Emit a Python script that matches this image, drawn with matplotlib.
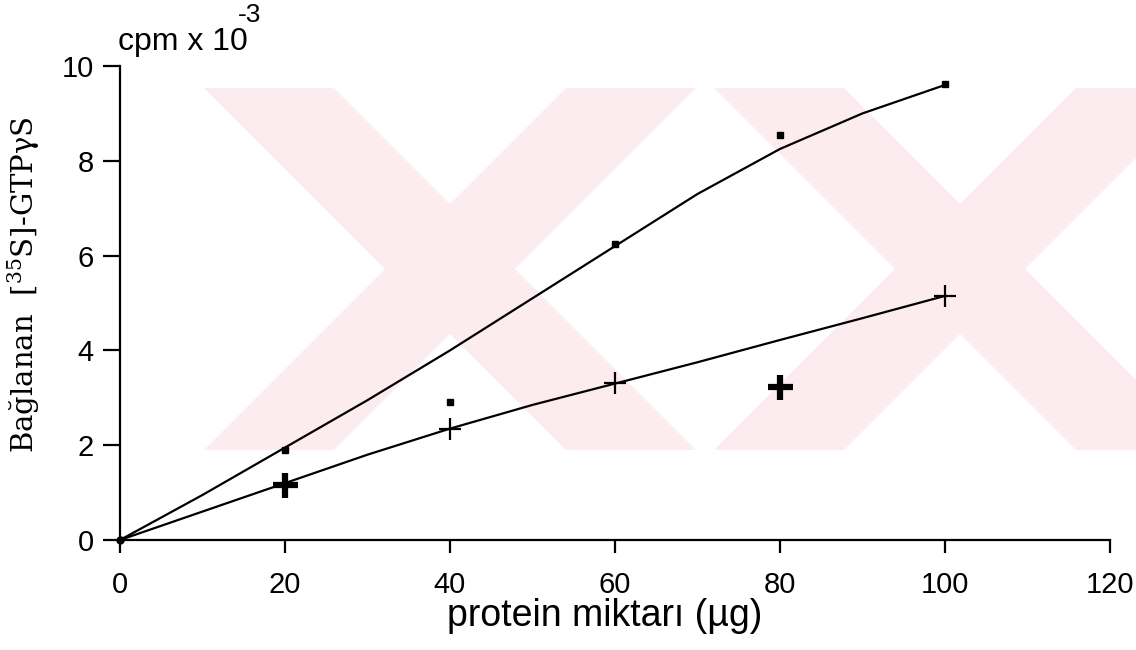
import matplotlib
matplotlib.use("Agg")
import matplotlib.pyplot as plt
from matplotlib.patches import Polygon, Rectangle

# measured points (protein ug -> bound cpm x 1e-3)
protein_ug = [0, 20, 40, 60, 80, 100]
upper_pts = [0, 1.9, 2.91, 6.24, 8.54, 9.62]
lower_pts = [0, 1.16, 2.34, 3.31, 3.23, 5.15]
lower_bold = [False, True, False, False, True, False]

curve_x = [0, 10, 20, 30, 40, 50, 60, 70, 80, 90, 100]
upper_curve = [0, 0.95, 1.95, 2.95, 4.0, 5.1, 6.2, 7.3, 8.25, 9.0, 9.6]
lower_curve = [0, 0.6, 1.2, 1.8, 2.35, 2.85, 3.3, 3.75, 4.22, 4.68, 5.15]

x_ticks = [0, 20, 40, 60, 80, 100, 120]
y_ticks = [0, 2, 4, 6, 8, 10]

plt.rcParams["mathtext.fontset"] = "dejavuserif"

W, H = 1136, 650
fig = plt.figure(figsize=(W / 100, H / 100), dpi=100)

# faint background watermark (two pale X shapes)
bg = fig.add_axes([0, 0, 1, 1], zorder=0)
bg.set_xlim(0, W)
bg.set_ylim(H, 0)
bg.axis("off")
clip = Rectangle((200, 88), W - 200, 362, transform=bg.transData)
for cx in (450, 960):
    cy, hw = 269, 65
    for s in (1, -1):
        t, b = 88, 450
        pts = [(cx + s * (t - cy) - hw, t), (cx + s * (t - cy) + hw, t),
               (cx + s * (b - cy) + hw, b), (cx + s * (b - cy) - hw, b)]
        p = Polygon(pts, closed=True, facecolor="#fdecef", edgecolor="none")
        bg.add_patch(p)
        p.set_clip_path(clip)

ax = fig.add_axes([120 / W, 1 - 540 / H, (1110 - 120) / W, (540 - 66) / H], zorder=1)
ax.patch.set_alpha(0)

ax.plot(curve_x, upper_curve, color="black", lw=1.6)
ax.plot(curve_x, lower_curve, color="black", lw=1.6)
ax.plot(protein_ug, upper_pts, ls="none", marker="s", ms=4, color="black")
for xv, yv, bold in zip(protein_ug, lower_pts, lower_bold):
    if xv == 0:
        ax.plot(xv, yv, marker="o", ms=5, color="black", clip_on=False)
        continue
    ax.plot(xv, yv, marker="+", ms=18 if bold else 16, mew=4.5 if bold else 1.6,
            color="black")

ax.set_xlim(0, 120)
ax.set_ylim(0, 10)
ax.set_xticks(x_ticks)
ax.set_yticks(y_ticks)
for sp in ("top", "right"):
    ax.spines[sp].set_visible(False)
for sp in ("left", "bottom"):
    ax.spines[sp].set_linewidth(1.6)
ax.tick_params(axis="x", direction="out", length=9, width=1.6, pad=13,
               labelsize=21)
ax.tick_params(axis="y", direction="out", length=12, width=1.6, pad=7,
               labelsize=21)
for lab in ax.get_xticklabels() + ax.get_yticklabels():
    lab.set_fontfamily("Liberation Sans")

ax.set_xlabel("protein miktarı (µg)", fontsize=27, family="Liberation Sans")
ax.xaxis.set_label_coords((605 - 120) / 990, -(598 - 540) / 474)
ax.xaxis.label.set_va("top")

fig.text(118 / W, 1 - 50 / H, "cpm x 10", fontsize=23, family="Liberation Sans",
         ha="left", va="baseline")
fig.text(238 / W, 1 - 22 / H, "-3", fontsize=19, family="Liberation Sans",
         ha="left", va="baseline")
fig.text(24 / W, 1 - 285 / H, "Bağlanan  [$^{35}$S]-GTPγS", rotation=90,
         fontsize=21, family="DejaVu Serif", ha="center", va="center")

fig.savefig("out.png", dpi=100)
